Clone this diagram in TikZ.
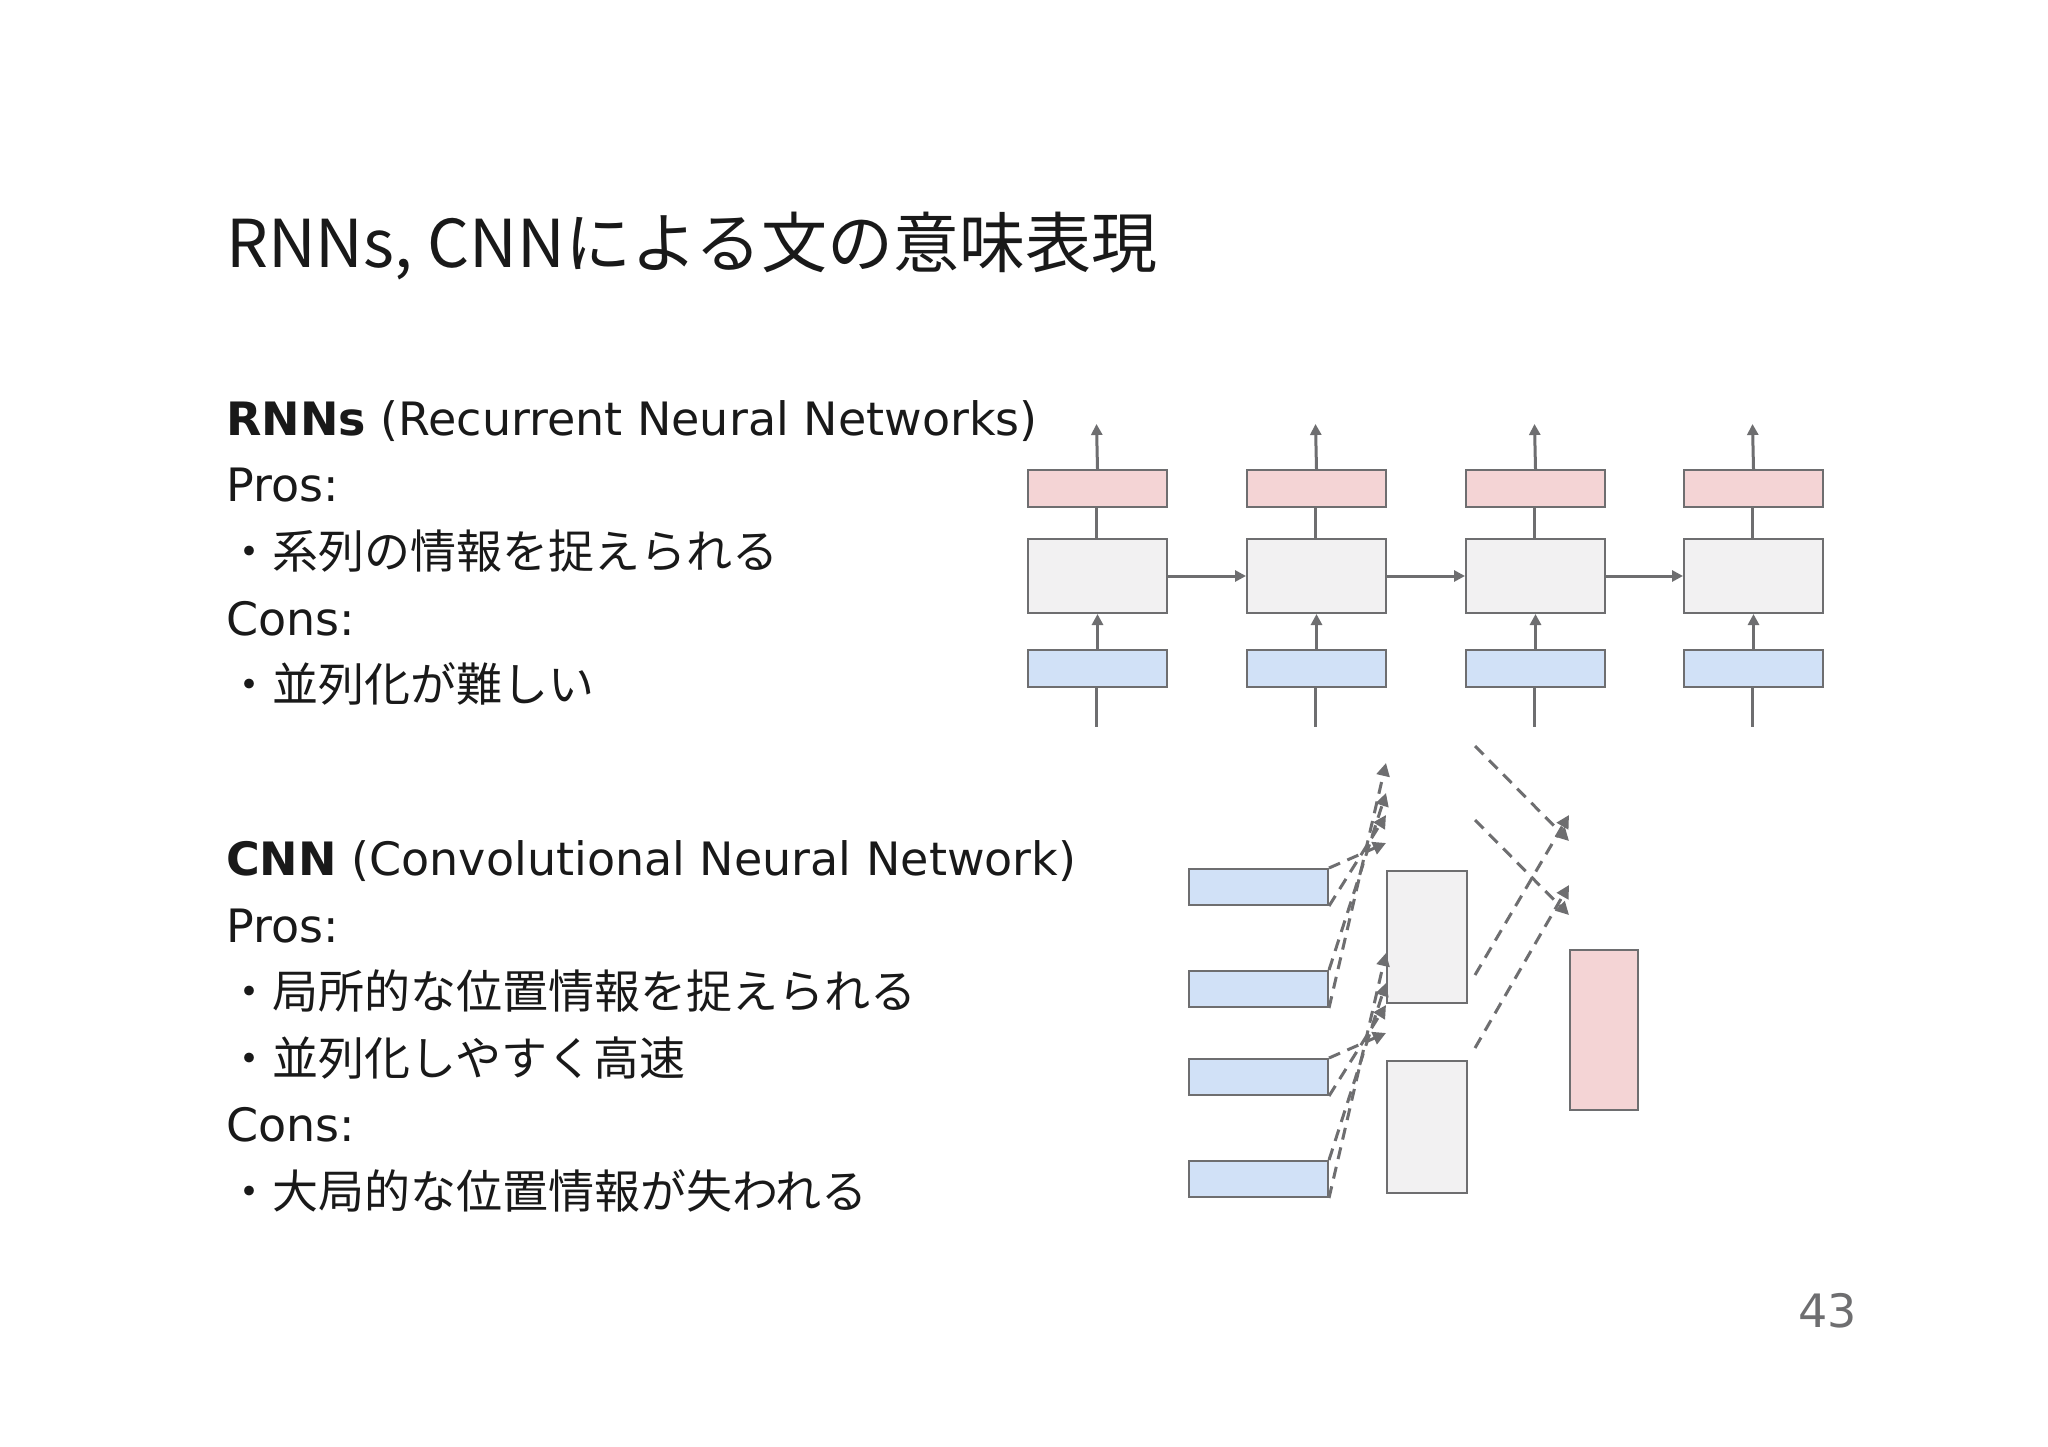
\documentclass[tikz,border=0pt]{standalone}
\usepackage{fontspec}
\setmainfont{DejaVu Sans}
\newfontfamily\cjk{Noto Sans CJK JP}
\usetikzlibrary{arrows.meta}
\definecolor{ln}{HTML}{6E6E70}
\definecolor{pk}{HTML}{F4D4D5}
\definecolor{gy}{HTML}{F2F1F2}
\definecolor{bl}{HTML}{D1E1F7}
\begin{document}
\begin{tikzpicture}[x=1pt,y=-1pt,
  bx/.style={draw=ln,line width=2pt,minimum width=139pt,inner sep=0pt,anchor=north west},
  pkb/.style={bx,fill=pk,minimum height=37pt},
  gyb/.style={bx,fill=gy,minimum height=74pt},
  blb/.style={bx,fill=bl,minimum height=37pt},
  ar/.style={draw=ln,line width=3pt,-{Triangle[length=11pt,width=11pt]}},
  da/.style={draw=ln,line width=3pt,dash pattern=on 12pt off 8pt,-{Triangle[length=13pt,width=13pt]}},
  txt/.style={anchor=base west,inner sep=0pt,font=\fontsize{46}{50}\selectfont,text=black!90}]
\useasboundingbox (0,0) rectangle (2048,1447);
\fill[white] (0,0) rectangle (2048,1447);
\node[anchor=base west,inner sep=0pt,font=\cjk\fontsize{66}{70}\selectfont,text=black!90] (title) at (226,268) {RNNs, CNNによる文の意味表現};
\node[txt] (r1) at (226,435) {\textbf{RNNs} (Recurrent Neural Networks)};
\node[txt] (r2) at (226,501) {Pros:};
\node[txt] (r3) at (226,568) {{\cjk ・系列の情報を捉えられる}};
\node[txt] (r4) at (226,635) {Cons:};
\node[txt] (r5) at (226,701) {{\cjk ・並列化が難しい}};
\node[txt] (c1) at (226,875) {\textbf{CNN} (Convolutional Neural Network)};
\node[txt] (c2) at (226,942) {Pros:};
\node[txt] (c3) at (226,1008) {{\cjk ・局所的な位置情報を捉えられる}};
\node[txt] (c4) at (226,1075) {{\cjk ・並列化しやすく高速}};
\node[txt] (c5) at (226,1141) {Cons:};
\node[txt] (c6) at (226,1208) {{\cjk ・大局的な位置情報が失われる}};
\node[anchor=base west,inner sep=0pt,font=\fontsize{46}{50}\selectfont,text=ln] (pg) at (1798,1327) {43};
% RNN
\foreach \i/\x in {1/1027,2/1246,3/1465,4/1683}{
  \coordinate (top\i) at (\x+69.5,424);
  \coordinate (bot\i) at (\x+69.5,727);
  \draw[ln,line width=3pt] (\x+69.5,649) -- (bot\i);
  \draw[ln,line width=3pt] (\x+69.5,612) -- (\x+69.5,469);
  \node[pkb] (p\i) at (\x,469) {};
  \node[gyb] (g\i) at (\x,538) {};
  \node[blb] (b\i) at (\x,649) {};
  \draw[ar] (p\i.north) -- (top\i);
  \draw[ar] (b\i.north) -- (g\i.south);
}
\draw[ar] (g1) -- (g2);
\draw[ar] (g2) -- (g3);
\draw[ar] (g3) -- (g4);
% CNN
\tikzset{cb/.style={draw=ln,line width=2pt,inner sep=0pt,anchor=north west}}
\node[cb,fill=bl,minimum width=139pt,minimum height=36pt] (i1) at (1188,868) {};
\node[cb,fill=bl,minimum width=139pt,minimum height=36pt] (i2) at (1188,970) {};
\node[cb,fill=bl,minimum width=139pt,minimum height=36pt] (i3) at (1188,1058) {};
\node[cb,fill=bl,minimum width=139pt,minimum height=36pt] (i4) at (1188,1160) {};
\node[cb,fill=gy,minimum width=80pt,minimum height=132pt] (h1) at (1386,870) {};
\node[cb,fill=gy,minimum width=80pt,minimum height=132pt] (h2) at (1386,1060) {};
\node[cb,fill=pk,minimum width=68pt,minimum height=160pt] (o) at (1569,949) {};
\draw[da] (i1.north east) -- ([yshift=27pt]h1.north west);
\draw[da] (i1.south east) -- ([yshift=55pt]h1.north west);
\draw[da] (i2.north east) -- ([yshift=77pt]h1.north west);
\draw[da] (i2.south east) -- ([yshift=107pt]h1.north west);
\draw[da] (i3.north east) -- ([yshift=27pt]h2.north west);
\draw[da] (i3.south east) -- ([yshift=55pt]h2.north west);
\draw[da] (i4.north east) -- ([yshift=77pt]h2.north west);
\draw[da] (i4.south east) -- ([yshift=107pt]h2.north west);
\draw[da] ([xshift=7pt,yshift=50pt]h1.north east) -- ([yshift=34pt]o.north west);
\draw[da] ([xshift=7pt,yshift=124pt]h1.north east) -- ([yshift=108pt]o.north west);
\draw[da] ([xshift=7pt,yshift=12pt]h2.north east) -- ([yshift=64pt]o.north west);
\draw[da] ([xshift=7pt,yshift=85pt]h2.north east) -- ([yshift=134pt]o.north west);
\end{tikzpicture}
\end{document}
